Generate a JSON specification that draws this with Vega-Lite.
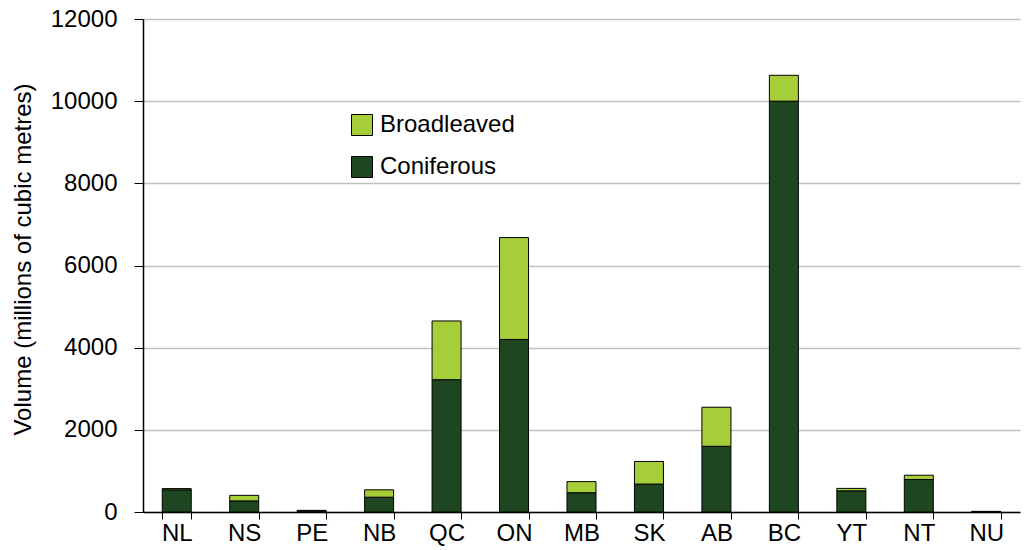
{
  "$schema": "https://vega.github.io/schema/vega-lite/v6.json",
  "width": 877,
  "height": 493,
  "autosize": {"type": "none"},
  "padding": {"left": 143, "top": 19, "right": 15, "bottom": 38},
  "background": "white",
  "config": {
    "font": "Liberation Sans",
    "view": {"stroke": null}
  },
  "data": {
    "values": [
      {"region": "NL", "type": "Coniferous", "volume": 540},
      {"region": "NL", "type": "Broadleaved", "volume": 30},
      {"region": "NS", "type": "Coniferous", "volume": 270},
      {"region": "NS", "type": "Broadleaved", "volume": 135},
      {"region": "PE", "type": "Coniferous", "volume": 25},
      {"region": "PE", "type": "Broadleaved", "volume": 15},
      {"region": "NB", "type": "Coniferous", "volume": 360},
      {"region": "NB", "type": "Broadleaved", "volume": 180},
      {"region": "QC", "type": "Coniferous", "volume": 3220},
      {"region": "QC", "type": "Broadleaved", "volume": 1430},
      {"region": "ON", "type": "Coniferous", "volume": 4200},
      {"region": "ON", "type": "Broadleaved", "volume": 2480},
      {"region": "MB", "type": "Coniferous", "volume": 470},
      {"region": "MB", "type": "Broadleaved", "volume": 270},
      {"region": "SK", "type": "Coniferous", "volume": 680},
      {"region": "SK", "type": "Broadleaved", "volume": 550},
      {"region": "AB", "type": "Coniferous", "volume": 1600},
      {"region": "AB", "type": "Broadleaved", "volume": 950},
      {"region": "BC", "type": "Coniferous", "volume": 10000},
      {"region": "BC", "type": "Broadleaved", "volume": 630},
      {"region": "YT", "type": "Coniferous", "volume": 515},
      {"region": "YT", "type": "Broadleaved", "volume": 60},
      {"region": "NT", "type": "Coniferous", "volume": 790},
      {"region": "NT", "type": "Broadleaved", "volume": 105},
      {"region": "NU", "type": "Coniferous", "volume": 10},
      {"region": "NU", "type": "Broadleaved", "volume": 5}
    ]
  },
  "transform": [
    {"calculate": "datum.type === 'Coniferous' ? 0 : 1", "as": "ord"}
  ],
  "mark": {"type": "bar", "stroke": "black", "strokeWidth": 1},
  "encoding": {
    "x": {
      "field": "region",
      "type": "nominal",
      "sort": ["NL", "NS", "PE", "NB", "QC", "ON", "MB", "SK", "AB", "BC", "YT", "NT", "NU"],
      "scale": {"paddingInner": 0.57, "paddingOuter": 0.285},
      "axis": {
        "title": null,
        "labelAngle": 0,
        "labelFontSize": 24,
        "labelColor": "black",
        "labelPadding": 2,
        "tickBand": "extent",
        "tickSize": 7,
        "tickColor": "black",
        "domainColor": "black",
        "domainWidth": 1.5,
        "grid": false
      }
    },
    "y": {
      "field": "volume",
      "type": "quantitative",
      "stack": "zero",
      "scale": {"domain": [0, 12000], "nice": false},
      "axis": {
        "title": "Volume (millions of cubic metres)",
        "titleFontSize": 24,
        "titleFontWeight": "normal",
        "titleColor": "black",
        "titleX": -120,
        "titleY": 240,
        "titleAngle": -90,
        "titleAlign": "center",
        "titleBaseline": "middle",
        "values": [0, 2000, 4000, 6000, 8000, 10000, 12000],
        "format": "d",
        "labelFontSize": 24,
        "labelColor": "black",
        "labelPadding": 17,
        "tickSize": 9,
        "tickColor": "black",
        "domainColor": "black",
        "domainWidth": 1.5,
        "grid": true,
        "gridColor": "#c0c0c0",
        "gridWidth": 1.5
      }
    },
    "color": {
      "field": "type",
      "type": "nominal",
      "scale": {"domain": ["Broadleaved", "Coniferous"], "range": ["#a6ce39", "#1e4620"]},
      "legend": {
        "title": null,
        "orient": "none",
        "legendX": 207,
        "legendY": 94,
        "symbolType": "square",
        "symbolSize": 441,
        "symbolStrokeColor": "black",
        "symbolStrokeWidth": 1,
        "labelFontSize": 24,
        "labelColor": "black",
        "labelOffset": 6,
        "rowPadding": 16
      }
    },
    "order": {"field": "ord", "type": "quantitative"}
  }
}
